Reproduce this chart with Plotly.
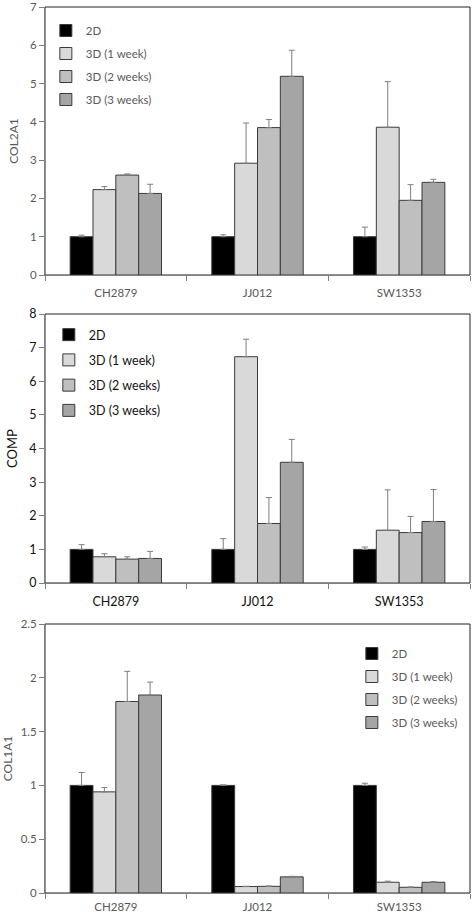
import plotly.graph_objects as go

categories = ["CH2879", "JJ012", "SW1353"]
series_names = ["2D", "3D (1 week)", "3D (2 weeks)", "3D (3 weeks)"]
colors = ["#000000", "#d9d9d9", "#bfbfbf", "#a5a5a5"]

# COL2A1 panel
col2a1_2d = [1.0, 1.0, 1.0]
col2a1_1w = [2.23, 2.92, 3.86]
col2a1_2w = [2.61, 3.85, 1.95]
col2a1_3w = [2.13, 5.19, 2.42]
col2a1_err_2d = [0.04, 0.05, 0.25]
col2a1_err_1w = [0.08, 1.05, 1.19]
col2a1_err_2w = [0.03, 0.21, 0.41]
col2a1_err_3w = [0.24, 0.68, 0.08]

# COMP panel
comp_2d = [1.0, 1.0, 1.0]
comp_1w = [0.78, 6.73, 1.57]
comp_2w = [0.71, 1.77, 1.50]
comp_3w = [0.73, 3.59, 1.83]
comp_err_2d = [0.14, 0.32, 0.07]
comp_err_1w = [0.09, 0.52, 1.20]
comp_err_2w = [0.07, 0.77, 0.48]
comp_err_3w = [0.21, 0.68, 0.95]

# COL1A1 panel
col1a1_2d = [1.0, 1.0, 1.0]
col1a1_1w = [0.94, 0.06, 0.10]
col1a1_2w = [1.78, 0.062, 0.053]
col1a1_3w = [1.84, 0.15, 0.10]
col1a1_err_2d = [0.12, 0.005, 0.02]
col1a1_err_1w = [0.04, 0.003, 0.01]
col1a1_err_2w = [0.28, 0.003, 0.003]
col1a1_err_3w = [0.12, 0.005, 0.005]

y_titles = ["COL2A1", "COMP", "COL1A1"]
y_ranges = [[0, 7], [0, 8], [0, 2.5]]
y_dticks = [1, 1, 0.5]

panels = [
    ([col2a1_2d, col2a1_1w, col2a1_2w, col2a1_3w],
     [col2a1_err_2d, col2a1_err_1w, col2a1_err_2w, col2a1_err_3w]),
    ([comp_2d, comp_1w, comp_2w, comp_3w],
     [comp_err_2d, comp_err_1w, comp_err_2w, comp_err_3w]),
    ([col1a1_2d, col1a1_1w, col1a1_2w, col1a1_3w],
     [col1a1_err_2d, col1a1_err_1w, col1a1_err_2w, col1a1_err_3w]),
]

FONT = "Lato, 'Open Sans', sans-serif"
text_colors = ["#595959", "#111111", "#595959"]
font_sizes = [11.5, 12.5, 11.5]

fig = go.Figure()
for p, (vals, errs) in enumerate(panels):
    sfx = "" if p == 0 else str(p + 1)
    for i, name in enumerate(series_names):
        fig.add_trace(go.Bar(
            x=categories, y=vals[i], name=name,
            xaxis="x" + sfx, yaxis="y" + sfx,
            legend="legend" + sfx, legendgroup=f"g{p}_{i}",
            marker=dict(color=colors[i], line=dict(color="#3a3a3a", width=1)),
            error_y=dict(type="data", symmetric=False, array=errs[i],
                         arrayminus=[0] * len(errs[i]),
                         color="#7f7f7f", thickness=1, width=3),
        ))

H = 915
mt, mb = 7, 22
ph = H - mt - mb
def fy(px):
    return (H - mb - px) / ph

domains = [[fy(275), fy(7)], [fy(583), fy(314)], [fy(893), fy(624)]]

layout = dict(
    width=472, height=915,
    margin=dict(l=45, r=2, t=mt, b=mb),
    paper_bgcolor="white", plot_bgcolor="white",
    barmode="group", bargap=0.355, bargroupgap=0,
    font=dict(family=FONT, size=12, color="#595959"),
    showlegend=True,
)
legend_pos = [(0.002, fy(16)), (0.009, fy(320)), (0.722, fy(639))]
legend_gaps = [4, 6, 4]
label_standoffs = [7, 7, 3]
for p in range(3):
    sfx = "" if p == 0 else str(p + 1)
    tc = text_colors[p]
    fs = font_sizes[p]
    layout["xaxis" + sfx] = dict(
        domain=[0, 1], anchor="y" + sfx, type="category", automargin=False,
        showline=True, linecolor="#808080", linewidth=1, mirror=False,
        ticks="outside", ticklen=5, tickcolor="#808080", tickson="boundaries",
        ticklabelstandoff=label_standoffs[p], ticklabeloverflow="allow",
        tickfont=dict(family=FONT, size=fs, color=tc), showgrid=False,
        fixedrange=True,
    )
    layout["yaxis" + sfx] = dict(
        domain=domains[p], anchor="x" + sfx, range=y_ranges[p], dtick=y_dticks[p],
        automargin=False, ticklabeloverflow="allow",
        showline=True, linecolor="#808080", linewidth=1,
        ticks="outside", ticklen=5, tickcolor="#808080",
        tickfont=dict(family=FONT, size=fs, color=tc), showgrid=False,
        zeroline=False,
        title=dict(text=y_titles[p], font=dict(family=FONT, size=fs + 0.5, color=tc), standoff=8),
    )
    lx, ly = legend_pos[p]
    layout["legend" + sfx] = dict(
        x=lx, y=ly, xanchor="left", yanchor="top", xref="paper", yref="paper",
        bgcolor="rgba(0,0,0,0)", borderwidth=0, tracegroupgap=legend_gaps[p],
        font=dict(family=FONT, size=fs, color=tc),
    )

fig.update_layout(**layout)

for p in range(3):
    sfx = "" if p == 0 else str(p + 1)
    fig.add_shape(type="rect", xref="x" + sfx + " domain", yref="y" + sfx + " domain",
                  x0=0, x1=1, y0=0, y1=1, line=dict(color="#222222", width=1),
                  fillcolor="rgba(0,0,0,0)", layer="below")

fig.write_html(
    "out.html",
    config={"displayModeBar": False},
    post_script="document.body.style.margin='0';document.body.style.overflow='hidden';",
)
